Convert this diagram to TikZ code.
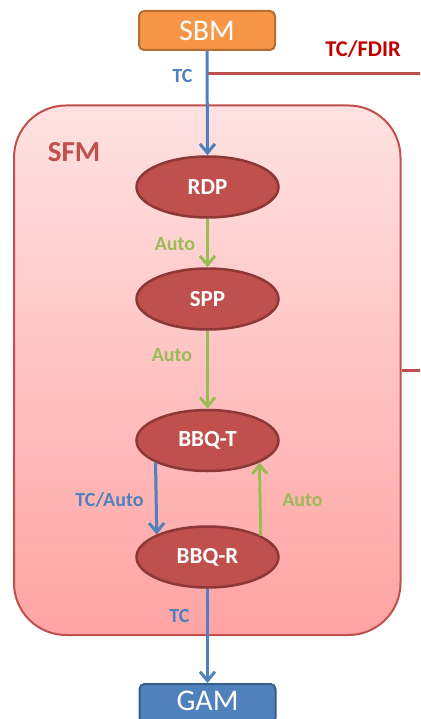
\documentclass[tikz,border=0pt]{standalone}
\usepackage{fontspec}
\setmainfont{Carlito}
\usetikzlibrary{arrows.meta,shapes.geometric}
\definecolor{sbmfill}{HTML}{F79646}
\definecolor{sbmline}{HTML}{B66D31}
\definecolor{gamfill}{HTML}{4F81BD}
\definecolor{gamline}{HTML}{385D8A}
\definecolor{tcblue}{HTML}{4F81BD}
\definecolor{autogreen}{HTML}{9BBB59}
\definecolor{statefill}{HTML}{C0504D}
\definecolor{stateline}{HTML}{8C3836}
\definecolor{sfmline}{HTML}{C0504D}
\definecolor{fdirred}{HTML}{C00000}
\definecolor{sfmtop}{RGB}{255,226,226}
\definecolor{sfmbottom}{RGB}{255,163,163}
\newcommand\fsz[1]{\fontsize{#1}{#1}\selectfont}
\tikzset{
  modbox/.style={draw, line width=2pt, rounded corners=5pt, minimum width=136pt,
    minimum height=39pt, inner sep=0pt, text=white, font=\fsz{30}},
  state/.style={ellipse, draw=stateline, fill=statefill, line width=2.5pt,
    minimum width=142pt, minimum height=61pt, inner sep=0pt, text=white,
    font=\fsz{23}\bfseries},
  arr/.style={-{Straight Barb[length=9pt,width=15pt]}, line width=3pt},
  tcarr/.style={arr, draw=tcblue},
  autoarr/.style={arr, draw=autogreen},
  fdirline/.style={draw=sfmline, line width=2.8pt},
  lbl/.style={anchor=base, inner sep=0pt, font=\fsz{20}\bfseries},
}
\begin{document}
\begin{tikzpicture}[x=1pt, y=-1pt]
\useasboundingbox (0,0) rectangle (420,719);
\clip (0,0) rectangle (420,719);

% software function manager container
\node[draw=sfmline, line width=2pt, rounded corners=52pt,
      top color=sfmtop, bottom color=sfmbottom,
      minimum width=386.5pt, minimum height=529.5pt, inner sep=0pt]
      (sfm) at (207.25,370.25) {};
\node[lbl, text=sfmline, font=\fsz{29}\bfseries] (sfmlbl) at (74,162) {SFM};

% managers outside
\node[modbox, draw=sbmline, fill=sbmfill] (sbm) at (207,30.5) {SBM};
\node[modbox, draw=gamline, fill=gamfill] (gam) at (207.5,703.5) {};
\node[anchor=base, inner sep=0pt, text=white, font=\fsz{30}] (gamlbl) at (207.5,710.5) {GAM};

% states
\node[state] (rdp)  at (207.5,187)   {RDP};
\node[state] (spp)  at (207.5,299)   {SPP};
\node[state] (bbqt) at (207.5,440.5) {BBQ-T};
\node[state] (bbqr) at (207.5,557)   {BBQ-R};

% FDIR link running off to the right
\coordinate (tap)     at (207.5,73.5);
\coordinate (fdirtop) at (425,73.5);
\coordinate (fdirlow) at (425,370.25);
\draw[fdirline] (tap) -- (fdirtop);
\draw[fdirline] (sfm.east) -- (fdirlow);
\node[lbl, text=fdirred, font=\fsz{22.5}\bfseries] (fdirlbl) at (363,57) {TC/FDIR};

% transitions
\draw[tcarr]   (sbm.south) -- (rdp.north);
\node[lbl, text=tcblue] (tc1) at (182.5,83) {TC};

\draw[autoarr] (rdp.south) -- (spp.north);
\node[lbl, text=autogreen] (auto1) at (175,250) {Auto};

\draw[autoarr] (spp.south) -- (bbqt.north);
\node[lbl, text=autogreen] (auto2) at (172,361) {Auto};

\draw[tcarr]   (bbqt.203.4) -- (bbqr.156.6);
\node[lbl, text=tcblue] (tcauto) at (109.5,506) {TC/Auto};

\draw[autoarr] (bbqr.22.6) -- (bbqt.337.4);
\node[lbl, text=autogreen] (auto3) at (302.5,506) {Auto};

\draw[tcarr]   (bbqr.south) -- (gam.north);
\node[lbl, text=tcblue] (tc2) at (179.5,622) {TC};
\end{tikzpicture}
\end{document}
